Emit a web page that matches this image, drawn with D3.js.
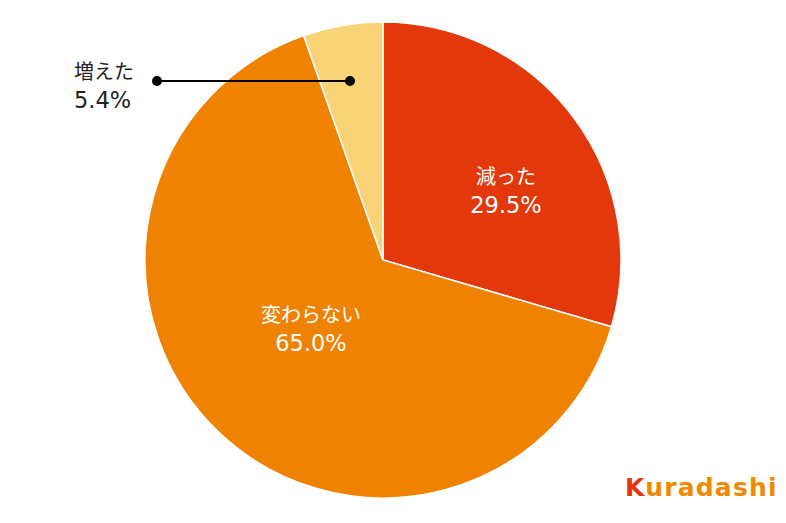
<!DOCTYPE html>
<html><head><meta charset="utf-8">
<script src="https://cdn.jsdelivr.net/npm/d3@7"></script>
<style>body{margin:0;background:#fff}svg{display:block}</style>
</head><body>
<script>
const categories = ["減った", "変わらない", "増えた"];
const values = [29.5, 65.0, 5.4];
const colors = ["#E2380B", "#EF8200", "#F9D477"];

const W = 786, H = 523, cx = 383, cy = 260, R = 238;
const svg = d3.select("body").append("svg").attr("width", W).attr("height", H);
const g = svg.append("g").attr("transform", `translate(${cx},${cy})`);
const pie = d3.pie().sort(null).value(d => d)(values);
const arc = d3.arc().innerRadius(0).outerRadius(R);
g.selectAll("path").data(pie).join("path")
  .attr("d", arc).attr("fill", (d,i) => colors[i])
  .attr("stroke", "#fff").attr("stroke-width", 1.5);

const cjk = "'Noto Sans CJK JP', sans-serif";
const num = "'DejaVu Sans', sans-serif";
function label(x, y, name, pct, fill, anchor) {
  svg.append("text").attr("x", x).attr("y", y).attr("font-family", cjk).attr("font-size", 20)
    .attr("fill", fill).attr("text-anchor", anchor).text(name);
  svg.append("text").attr("x", x).attr("y", y + 29).attr("font-family", num).attr("font-size", 22.5)
    .attr("fill", fill).attr("text-anchor", anchor).text(pct);
}
label(506, 184, categories[0], values[0].toFixed(1) + "%", "#fff", "middle");
label(311, 322, categories[1], values[1].toFixed(1) + "%", "#fff", "middle");
label(74, 79, categories[2], values[2].toFixed(1) + "%", "#222", "start");

// leader line for small slice
const y0 = 81;
svg.append("line").attr("x1", 157).attr("y1", y0).attr("x2", 350).attr("y2", y0)
  .attr("stroke", "#000").attr("stroke-width", 2);
svg.append("circle").attr("cx", 157).attr("cy", y0).attr("r", 5).attr("fill", "#000");
svg.append("circle").attr("cx", 350).attr("cy", y0).attr("r", 5).attr("fill", "#000");

// logo
const logo = svg.append("text").attr("x", 625).attr("y", 496)
  .attr("font-family", "'DejaVu Sans', sans-serif").attr("font-weight", "bold")
  .attr("font-size", 25).attr("letter-spacing", 1.2);
logo.append("tspan").attr("fill", "#E2380B").text("K");
logo.append("tspan").attr("fill", "#EF8A00").text("uradashi");
</script>
</body></html>
